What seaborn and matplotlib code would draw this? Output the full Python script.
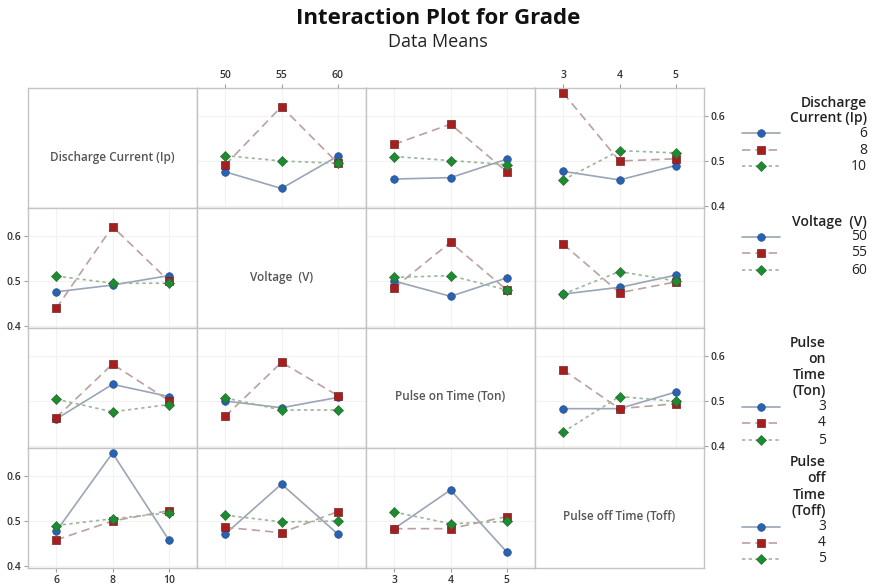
import numpy as np
import pandas as pd
import matplotlib
matplotlib.use("Agg")
import matplotlib.pyplot as plt
from matplotlib.lines import Line2D
import seaborn as sns

sns.set_theme(style="white")
plt.rcParams["font.family"] = ["Open Sans", "DejaVu Sans"]

# Factors and their levels
panel_labels = ["Discharge Current (Ip)", "Voltage  (V)", "Pulse on Time (Ton)", "Pulse off Time (Toff)"]
legend_titles = [["Discharge", "Current (Ip)"], ["Voltage  (V)"],
                 ["Pulse", "on", "Time", "(Ton)"], ["Pulse", "off", "Time", "(Toff)"]]
ip_levels = [6, 8, 10]
v_levels = [50, 55, 60]
ton_levels = [3, 4, 5]
toff_levels = [3, 4, 5]
levels = [ip_levels, v_levels, ton_levels, toff_levels]

# Cell means of Grade: rows = levels of the first factor, columns = levels of the second
ip_v = [[0.476, 0.439, 0.511],
        [0.491, 0.621, 0.495],
        [0.512, 0.500, 0.495]]
ip_ton = [[0.460, 0.463, 0.504],
          [0.537, 0.582, 0.476],
          [0.510, 0.501, 0.492]]
ip_toff = [[0.477, 0.458, 0.490],
           [0.651, 0.500, 0.505],
           [0.458, 0.523, 0.518]]
v_ton = [[0.500, 0.466, 0.507],
         [0.485, 0.586, 0.480],
         [0.508, 0.512, 0.480]]
v_toff = [[0.471, 0.486, 0.513],
          [0.582, 0.474, 0.498],
          [0.471, 0.521, 0.500]]
ton_toff = [[0.483, 0.483, 0.520],
            [0.569, 0.483, 0.494],
            [0.431, 0.510, 0.499]]

pair_means = {(0, 1): ip_v, (0, 2): ip_ton, (0, 3): ip_toff,
              (1, 2): v_ton, (1, 3): v_toff, (2, 3): ton_toff}

y_ticks = [0.4, 0.5, 0.6]
y_range = (0.3956, 0.6622)

marker_colors = ["#2862b2", "#a51f1f", "#1d8c30"]
marker_edges = ["#2a4f86", "#7a2020", "#2a6a34"]
line_colors = ["#9aa5b5", "#bba0a0", "#9db59d"]
dash_specs = ["", (5, 3), (2, 2)]
mpl_dashes = ["-", (0, (5, 3)), (0, (2, 2))]
marker_shapes = ["o", "s", "D"]
marker_area = [30, 30, 26]

W, H = 874, 587
fig = plt.figure(figsize=(W / 100, H / 100), dpi=100)


def fx(x):
    return x / W


def fy(y):
    return 1 - y / H


def cell_table(r, c):
    if r < c:
        return np.array(pair_means[(r, c)])
    return np.array(pair_means[(c, r)]).T


grid_left, grid_top, cell_w, cell_h = 28, 88, 169, 120
spine_col = "#c4c4c4"
tick_kw = dict(labelsize=7.5, labelcolor="#333333", color="#a0a0a0", length=3, width=0.8, pad=2)

for r in range(4):
    for c in range(4):
        left = grid_left + c * cell_w
        top = grid_top + r * cell_h
        ax = fig.add_axes([fx(left), fy(top + cell_h), cell_w / W, cell_h / H])
        ax.set_xlim(-0.5, 2.5)
        ax.set_ylim(*y_range)
        for s in ax.spines.values():
            s.set_color(spine_col)
            s.set_linewidth(1.0)
        if r == c:
            ax.set_xticks([])
            ax.set_yticks([])
            ax.text(0.5, 0.425, panel_labels[r], transform=ax.transAxes, ha="center", va="center",
                    fontsize=8.5, fontweight="semibold", color="#555555")
            continue

        table = cell_table(r, c)
        rows = []
        for i, tl in enumerate(levels[r]):
            for j, xl in enumerate(levels[c]):
                rows.append({"pos": j, "mean": table[i, j], "trace": str(tl)})
        df = pd.DataFrame(rows)
        order = [str(v) for v in levels[r]]

        sns.lineplot(data=df, x="pos", y="mean", hue="trace", style="trace",
                     hue_order=order, style_order=order,
                     palette=dict(zip(order, line_colors)),
                     dashes=dict(zip(order, dash_specs)),
                     linewidth=1.2, legend=False, ax=ax, zorder=2)
        for i, lvl in enumerate(order):
            sub = df[df["trace"] == lvl]
            sns.scatterplot(data=sub, x="pos", y="mean", marker=marker_shapes[i],
                            color=marker_colors[i], edgecolor=marker_edges[i], linewidth=0.5,
                            s=marker_area[i], legend=False, ax=ax, zorder=3 + i)
        ax.set_xlabel("")
        ax.set_ylabel("")
        ax.set_xlim(-0.5, 2.5)
        ax.set_ylim(*y_range)
        ax.set_xticks([0, 1, 2])
        ax.set_xticklabels([str(v) for v in levels[c]])
        ax.set_yticks(y_ticks)
        ax.set_yticklabels([f"{v:.1f}" for v in y_ticks])
        ax.grid(True, color="#f2f2f2", linewidth=0.8)
        ax.set_axisbelow(True)

        show_left = (c == 0 and r in (1, 3))
        show_right = (c == 3 and r in (0, 2))
        show_top = (r == 0 and c in (1, 3))
        show_bottom = (r == 3 and c in (0, 2))
        ax.tick_params(axis="y", left=show_left, labelleft=show_left,
                       right=show_right, labelright=show_right, **tick_kw)
        ax.tick_params(axis="x", bottom=show_bottom, labelbottom=show_bottom,
                       top=show_top, labeltop=show_top, **tick_kw)
        for lab in ax.get_xticklabels() + ax.get_yticklabels():
            lab.set_fontweight("semibold")

# Legends, one per trace factor, stacked to the right of the grid
legend_layout = [
    dict(title_y=[103, 118], entry_y=[133, 150, 166], right=867),
    dict(title_y=[222], entry_y=[237, 253, 270], right=867),
    dict(title_y=[343, 359, 375, 391], entry_y=[407, 423, 440], right=826),
    dict(title_y=[462, 478, 495, 511], entry_y=[527, 543, 559], right=826),
]
for k, lay in enumerate(legend_layout):
    for line, ty in zip(legend_titles[k], lay["title_y"]):
        fig.text(fx(lay["right"]), fy(ty), line, ha="right", va="center",
                 fontsize=10, fontweight="semibold", color="#222222")
    for i, (lvl, ey) in enumerate(zip(levels[k], lay["entry_y"])):
        fig.add_artist(Line2D([fx(742), fx(780)], [fy(ey), fy(ey)], transform=fig.transFigure,
                              color=line_colors[i], linestyle=mpl_dashes[i], linewidth=1.2))
        fig.add_artist(Line2D([fx(761)], [fy(ey)], transform=fig.transFigure, linestyle="none",
                              marker=marker_shapes[i], markersize=5.5 if i < 2 else 5,
                              markerfacecolor=marker_colors[i], markeredgecolor=marker_edges[i],
                              markeredgewidth=0.5))
        fig.text(fx(lay["right"]), fy(ey), str(lvl), ha="right", va="center",
                 fontsize=10, color="#222222")

fig.text(fx(438), fy(19), "Interaction Plot for Grade", ha="center", va="center",
         fontsize=16, fontweight="bold", color="#111111")
fig.text(fx(438), fy(42), "Data Means", ha="center", va="center",
         fontsize=13, color="#222222")

fig.savefig("out.png", dpi=100)
